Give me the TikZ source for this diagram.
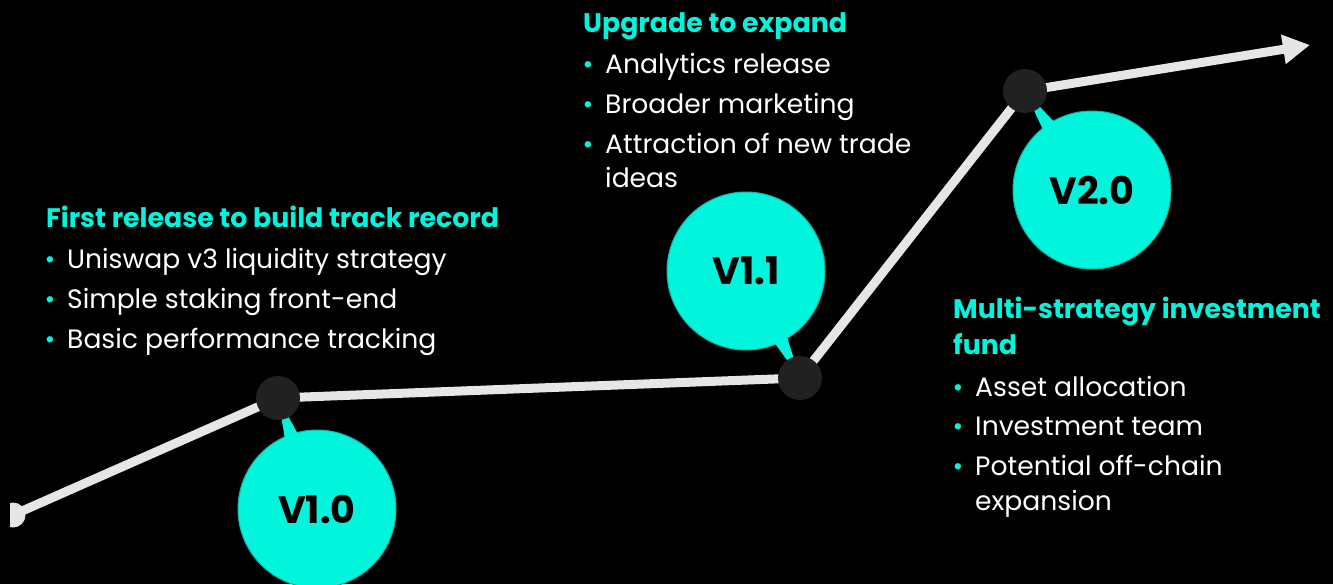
\documentclass[tikz,border=0pt]{standalone}
\usepackage{fontspec}
\setmainfont{Poppins}
\usetikzlibrary{arrows.meta,calc}
\definecolor{mint}{HTML}{00F5DC}
\definecolor{mintedge}{HTML}{12B5A4}
\definecolor{track}{HTML}{E6E6E6}
\definecolor{hingegray}{HTML}{212121}
\tikzset{
  heading/.style={anchor=base west, inner sep=0pt, text=mint, font=\fontsize{26.8}{32}\selectfont\bfseries},
  point/.style={anchor=base west, inner sep=0pt, text=white, font=\fontsize{26.6}{32}\selectfont},
  bullet/.style={anchor=base, inner sep=0pt, text=mint, font=\fontsize{26}{30}\selectfont},
  badge/.style={circle, fill=mint, draw=mintedge, line width=1pt, minimum size=158pt, inner sep=0pt, text=black, font=\fontsize{38}{40}\selectfont\bfseries},
  hinge/.style={circle, fill=hingegray, minimum size=44pt, inner sep=0pt},
  tail/.style={fill=mint},
}
\begin{document}
\begin{tikzpicture}[x=1pt, y=1pt, line join=round, >={Triangle[length=27pt,width=28pt]}]
 \fill[black] (0,0) rectangle (1333,-584);
 \useasboundingbox (0,0) rectangle (1333,-584);
 % track
 \coordinate (s) at (13,-515);
 \coordinate (p1) at (278,-398);
 \coordinate (p2) at (800,-378);
 \coordinate (p3) at (1025,-91);
 \coordinate (e) at (1310,-45);
 \begin{scope}
  \clip (10,-480) rectangle (40,-550);
  \fill[track] (s) circle (12.5pt);
 \end{scope}
 \draw[track, line width=9pt] (s) -- (p1) -- (p2) -- (p3);
 \draw[track, line width=9pt, ->] (p3) -- (e);
 % versions
 \node[badge] (v1) at (317,-509) {V1.0};
 \node[badge] (v2) at (746,-271) {V1.1};
 \node[badge] (v3) at (1092,-190) {V2.0};
 \foreach \v/\p in {v1/p1, v2/p2, v3/p3}
  \fill[tail] ($(\v)!78pt!5:(\p)$) -- ($(\v)!78pt!-5:(\p)$) -- (\p) -- cycle;
 \foreach \p in {1,2,3} \node[hinge] (h\p) at (p\p) {};
 % V1.0 text
 \node[heading] (head1) at (46,-227) {First release to build track record};
 \foreach \n/\y/\t in {a/268/Uniswap v3 liquidity strategy, b/308/Simple staking front-end, c/348/Basic performance tracking}{
  \node[bullet] (dot1\n) at (50,-\y) {•};
  \node[point] (pt1\n) at (67,-\y) {\t};
 }
 % V1.1 text
 \node[heading] (head2) at (583,-32) {Upgrade to expand};
 \foreach \n/\y/\t in {a/73/Analytics release, b/113/Broader marketing, c/153/Attraction of new trade}{
  \node[bullet] (dot2\n) at (588,-\y) {•};
  \node[point] (pt2\n) at (605,-\y) {\t};
 }
 \node[point] (pt2d) at (605,-187) {ideas};
 % V2.0 text
 \node[heading] (head3) at (953,-318) {Multi-strategy investment};
 \node[heading] (head3b) at (953,-354) {fund};
 \foreach \n/\y/\t in {a/396/Asset allocation, b/435/Investment team, c/475/Potential off-chain}{
  \node[bullet] (dot3\n) at (958,-\y) {•};
  \node[point] (pt3\n) at (975,-\y) {\t};
 }
 \node[point] (pt3d) at (975,-510) {expansion};
\end{tikzpicture}
\end{document}
